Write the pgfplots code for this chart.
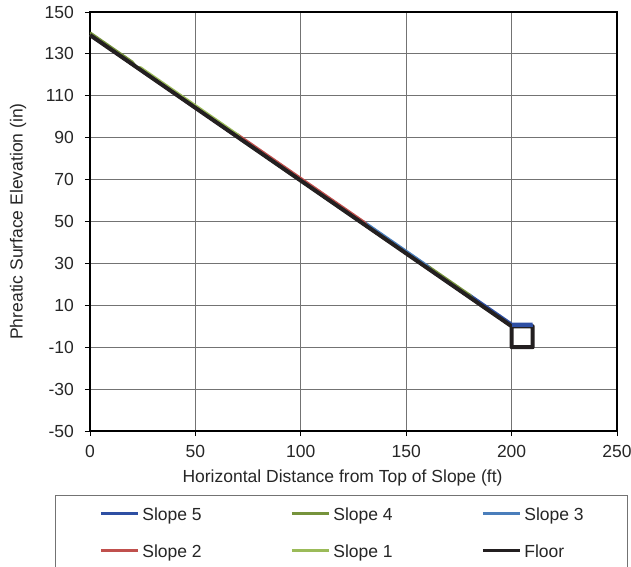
\documentclass[border=0pt]{standalone}
\usepackage{pgfplots}
\pgfplotsset{compat=1.18}
\usepackage{fontspec}
\setmainfont{Liberation Sans}
\definecolor{sfive}{HTML}{2E4FA3}
\definecolor{sfour}{HTML}{76933C}
\definecolor{sthree}{HTML}{4A7EBB}
\definecolor{stwo}{HTML}{C0504D}
\definecolor{sone}{HTML}{9BBB59}
\definecolor{floorc}{HTML}{231F20}
\definecolor{txt}{HTML}{262626}
\newcommand{\fnt}{\fontsize{17.5bp}{20bp}\selectfont}
\newcommand{\lent}[2]{\makebox[#1][l]{\hspace{3bp}#2}}
\begin{document}
\begin{tikzpicture}
\begin{axis}[
  name=ax,
  scale only axis,
  width=527bp, height=419bp,
  xmin=0, xmax=250, ymin=-50, ymax=150,
  xtick={0,50,...,250},
  ytick={-50,-30,...,150},
  grid=major,
  major grid style={black!55, line width=0.9pt},
  axis line style={black, line width=1.3pt},
  tick style={black, line width=0.9pt},
  tick align=outside,
  major tick length=5bp,
  xtick pos=bottom, ytick pos=left,
  /pgf/number format/assume math mode=true,
  ticklabel style={font=\fnt, text=txt, inner sep=0pt},
  xticklabel style={anchor=base, yshift=-21.5bp},
  yticklabel style={anchor=east, xshift=-11bp},
  label style={font=\fnt, text=txt},
  xlabel={Horizontal Distance from Top of Slope (ft)},
  ylabel={Phreatic Surface Elevation (in)},
  xlabel style={at={(axis description cs:0.5,0)}, anchor=center, yshift=-47bp, xshift=-11bp, inner sep=0pt},
  ylabel style={at={(axis description cs:0,0.5)}, anchor=center, yshift=72bp, inner sep=0pt},
  legend columns=3,
  legend cell align=left,
  legend style={
    at={([xshift=-35bp,yshift=-64bp]axis description cs:0,0)},
    anchor=north west,
    draw=black!55, line width=0.8pt,
    font=\fnt, text=txt,
    inner xsep=44bp, inner ysep=0bp,
    nodes={inner sep=0pt, text height=24.75bp, text depth=12.25bp},
    column sep=0bp, row sep=0bp,
  },
  legend image code/.code={\draw[#1, line width=3bp] (0bp,0bp) -- (37bp,0bp);},
]
% Slope series: they follow the floor line and rise slightly above it in the stretches where they show
\addplot[sfive, line width=2.8bp] coordinates {(0,139) (178,15.29) (180,15.0) (200,1.1) (210,1.1)};
\addlegendentry{\lent{151bp}{Slope 5}}
\addplot[sfour, line width=2.8bp] coordinates {(0,140.1) (20,126.2) (22,123.71) (158,29.19) (160,28.9) (180,15.0) (182,12.51) (200,0)};
\addlegendentry{\lent{151bp}{Slope 4}}
\addplot[sthree, line width=2.8bp] coordinates {(0,139) (128,50.04) (130,49.75) (160,28.9) (162,26.41) (200,0)};
\addlegendentry{\lent{62bp}{Slope 3}}
\addplot[stwo, line width=2.8bp] coordinates {(0,139) (68,91.74) (70,91.45) (130,49.75) (132,47.26) (200,0)};
\addlegendentry{\lent{151bp}{Slope 2}}
\addplot[sone, line width=2.8bp] coordinates {(0,139) (22,123.71) (24,123.42) (70,91.45) (72,88.96) (200,0)};
\addlegendentry{\lent{151bp}{Slope 1}}
\addplot[floorc, line width=4.0bp, line join=round] coordinates {(0,139) (200,0) (200,-10) (210,-10) (210,0) (200,0)};
\addlegendentry{\lent{62bp}{Floor}}
\addplot[sfive, line width=2.6bp, forget plot] coordinates {(200,0.3) (210,0.3)};
\coordinate (O) at (rel axis cs:0,0);
\end{axis}
\pgfresetboundingbox
\path[use as bounding box] ([shift={(-90bp,-136bp)}]O) rectangle ([shift={(541bp,431bp)}]O);
\end{tikzpicture}
\end{document}
